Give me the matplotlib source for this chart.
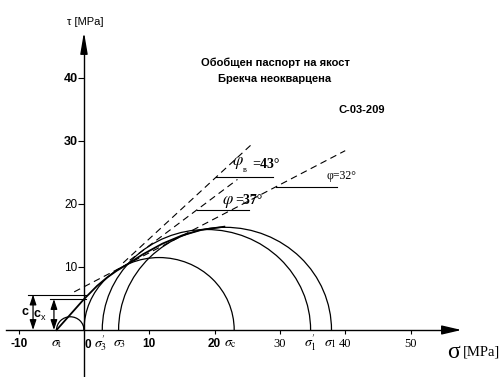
import matplotlib
matplotlib.use("Agg")
import numpy as np
import matplotlib.pyplot as plt
from matplotlib.patches import Arc
from matplotlib import font_manager

plt.rcParams['mathtext.fontset'] = 'stix'

names = {f.name for f in font_manager.fontManager.ttflist}
NARROW = 'Liberation Sans Narrow' if 'Liberation Sans Narrow' in names else 'Liberation Sans'
SERIF = 'Liberation Serif'

# ---------------- data ----------------
circle_sigma3 = [-4.2, 0.0, 2.8, 5.3]      # left end of each Mohr circle
circle_sigma1 = [0.0, 23.0, 34.7, 37.9]    # right end of each Mohr circle

env_sigma = [-4.2, 0.0, 2.0, 3.5, 5.0, 6.6, 9.0, 12.0, 15.0, 18.0, 21.5]
env_tau = [0.0, 4.9, 7.0, 8.3, 9.4, 10.4, 12.0, 13.7, 15.0, 15.9, 16.4]

tangent_pairs = [(0, 1), (1, 2), (1, 3)]
tangent_from = [6.0, 7.0, -1.5]
tangent_to = [25.5, 23.5, 40.0]
marker_tau = [24.3, 19.05, 22.7]
marker_end = [28.9, 25.2, 38.8]

x_ticks = [-10, 10, 20, 30, 40, 50]
x_tick_labels = ['-10', '10', '20', '30', '40', '50']
y_ticks = [10, 20, 30, 40]
y_tick_labels = ['10', '20', '30', '40']

title_lines = ['Обобщен паспорт на якост', 'Брекча неокварцена']
sample_id = 'C-03-209'

# ---------------- figure ----------------
fig = plt.figure(figsize=(4.99, 3.77), dpi=100)
ax = fig.add_axes([0, 0, 1, 1])
ax.set_xlim(-12.86, 63.55)
ax.set_ylim(-7.46, 52.38)
ax.patch.set_visible(False)

for s in ['top', 'right']:
    ax.spines[s].set_visible(False)
ax.spines['left'].set_position(('data', 0))
ax.spines['bottom'].set_position(('data', 0))
ax.spines['left'].set_bounds(-7.5, 45.0)
ax.spines['bottom'].set_bounds(-12.0, 55.5)
ax.spines['left'].set_linewidth(1.0)
ax.spines['bottom'].set_linewidth(1.0)

ax.annotate('', xy=(57.8, 0), xytext=(55.0, 0),
            arrowprops=dict(arrowstyle='-|>,head_length=1.2,head_width=0.28',
                            color='k', lw=1.0, shrinkA=0, shrinkB=0))
ax.annotate('', xy=(0, 47.3), xytext=(0, 44.5),
            arrowprops=dict(arrowstyle='-|>,head_length=1.3,head_width=0.22',
                            color='k', lw=1.0, shrinkA=0, shrinkB=0))

ax.set_xticks(x_ticks)
ax.set_xticklabels(x_tick_labels)
ax.set_yticks(y_ticks)
ax.set_yticklabels(y_tick_labels)
ax.tick_params(axis='x', direction='out', length=3, width=0.8, pad=2.5)
ax.tick_params(axis='y', direction='out', length=4, width=0.8, pad=0.5)
for lab in ax.get_xticklabels():
    if lab.get_text() in ('30', '40', '50'):
        lab.set_fontfamily(SERIF); lab.set_fontsize(9)
    else:
        lab.set_fontfamily(NARROW); lab.set_fontweight('bold'); lab.set_fontsize(8.5)
for lab in ax.get_yticklabels():
    if lab.get_text() in ('30', '40'):
        lab.set_fontfamily(NARROW); lab.set_fontweight('bold'); lab.set_fontsize(9)
    else:
        lab.set_fontfamily(NARROW); lab.set_fontsize(8.5)

# Mohr circles
for s3, s1 in zip(circle_sigma3, circle_sigma1):
    c = (s3 + s1) / 2
    d = s1 - s3
    ax.add_patch(Arc((c, 0), d, d, theta1=0, theta2=180, color='k', lw=0.9))

# envelope
ax.plot(env_sigma, env_tau, color='k', lw=1.3)

# tangent (Mohr-Coulomb) lines from circle pairs
cent = [(a + b) / 2 for a, b in zip(circle_sigma3, circle_sigma1)]
rad = [(b - a) / 2 for a, b in zip(circle_sigma3, circle_sigma1)]
intercepts = []
slopes = []
for (i, j), x0, x1, mt, me in zip(tangent_pairs, tangent_from, tangent_to, marker_tau, marker_end):
    sphi = (rad[j] - rad[i]) / (cent[j] - cent[i])
    phi = np.arcsin(sphi)
    k = np.tan(phi)
    b = rad[j] / np.cos(phi) - cent[j] * k
    intercepts.append(b); slopes.append(k)
    xs = np.array([x0, x1])
    ax.plot(xs, b + k * xs, color='k', lw=0.8, dashes=(6, 4))
    xm = (mt - b) / k
    ax.plot([xm, me], [mt, mt], color='k', lw=0.8)

c_val = intercepts[1]
cx_val = intercepts[0]
ax.plot([-8.6, 0.3], [c_val, c_val], color='k', lw=0.8)
ax.plot([-5.2, 0.3], [cx_val, cx_val], color='k', lw=0.8)
for xa, ya in [(-7.8, c_val), (-4.6, cx_val)]:
    ax.annotate('', xy=(xa, ya), xytext=(xa, 0),
                arrowprops=dict(arrowstyle='<|-|>,head_length=0.6,head_width=0.2',
                                color='k', lw=0.9, shrinkA=0, shrinkB=0))
ax.text(-9.0, 2.9, 'c', fontfamily=NARROW, fontweight='bold', fontsize=9,
        ha='center', va='center')
ax.text(-6.7, 2.6, 'c', fontfamily=NARROW, fontweight='bold', fontsize=9,
        ha='right', va='center')
ax.text(-6.6, 2.0, 'x', fontfamily=NARROW, fontsize=6.5, ha='left', va='center')

# sigma labels
sig_labels = [(-4.1, r'$\sigma_{\rm t}$'), (2.6, r"$\sigma_3^{\prime}$"), (5.5, r'$\sigma_3$'),
              (22.5, r'$\sigma_{\rm c}$'), (34.6, r"$\sigma_1^{\prime}$"), (37.7, r'$\sigma_1$')]
for xs_, t in sig_labels:
    ax.text(xs_, -2.1, t, fontsize=10, ha='center', va='center')
ax.text(0.6, -2.4, '0', fontfamily=NARROW, fontweight='bold', fontsize=8.5,
        ha='center', va='center')

# axis titles
ax.text(0.15, 48.9, 'τ [MPa]', fontfamily=NARROW, fontsize=8, ha='center', va='center')
ax.text(56.6, -3.6, 'σ', fontfamily=SERIF, fontsize=17, ha='center', va='center')
ax.text(58.0, -3.5, '[MPa]', fontfamily=SERIF, fontsize=10.5, ha='left', va='center')

# angle labels
ax.text(23.5, 26.6, r'$\varphi$', fontsize=12, ha='center', va='center')
ax.text(24.35, 25.35, 'в', fontfamily=SERIF, fontsize=6, ha='left', va='center')
ax.text(25.8, 26.2, '=43°', fontfamily=SERIF, fontweight='bold', fontsize=10,
        ha='left', va='center')
ax.text(22.1, 20.5, r'$\varphi$', fontsize=12, ha='center', va='center')
ax.text(25.3, 20.6, '=37°', fontfamily=SERIF, fontweight='bold', fontsize=10,
        ha='center', va='center')
ax.text(39.5, 24.4, 'φ=32°', fontfamily=SERIF, fontsize=8.5, ha='center', va='center')

# titles
ax.text(29.25, 42.4, title_lines[0], fontfamily=NARROW, fontweight='bold', fontsize=8,
        ha='center', va='center')
ax.text(29.25, 39.9, title_lines[1], fontfamily=NARROW, fontweight='bold', fontsize=8,
        ha='center', va='center')
ax.text(42.6, 34.9, sample_id, fontfamily=NARROW, fontweight='bold', fontsize=8,
        ha='center', va='center')

fig.savefig('out.png', dpi=100)
